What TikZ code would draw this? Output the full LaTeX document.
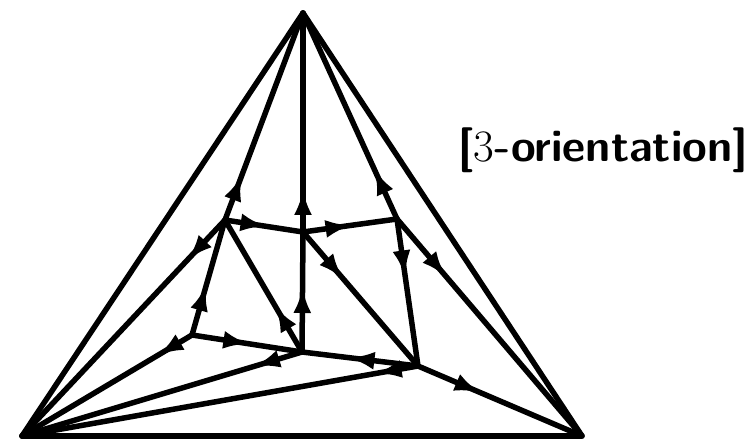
\documentclass[tikz,border=0pt]{standalone}
\usepackage{fontspec}
\usetikzlibrary{arrows.meta,decorations.markings}
\begin{document}
\begin{tikzpicture}[x=1pt,y=-1pt,
  edge/.style={line width=5.5pt},
  inedge/.style={line width=5.5pt, line cap=round},
  arr/.style={inedge, postaction={decorate},
    decoration={markings, mark=at position #1 with {\arrow{Latex[length=26pt,width=18pt]}}}},
  lbl/.style={anchor=base west, font=\fontsize{45}{50}\selectfont\sffamily\bfseries}]
\useasboundingbox (0,0) rectangle (752,446);
% vertices
\coordinate (T) at (303,13);
\coordinate (L) at (22,436);
\coordinate (R) at (582,436);
\coordinate (A) at (225,220);
\coordinate (B) at (303,232);
\coordinate (C) at (397,219);
\coordinate (D) at (302,352);
\coordinate (E) at (418,366);
\coordinate (F) at (192,335);
% outer triangle
\draw[edge] (T) -- (L);
\draw[edge] (T) -- (R);
\draw[edge] (L) -- (R);
% inner edges (tail -> head)
\draw[arr=48pt] (A) -- (T);
\draw[arr=55pt] (A) -- (L);
\draw[arr=42pt] (A) -- (B);
\draw[arr=43pt] (B) -- (T);
\draw[arr=49pt] (B) -- (C);
\draw[arr=62pt] (B) -- (E);
\draw[arr=55pt] (C) -- (T);
\draw[arr=58pt] (C) -- (E);
\draw[arr=76pt] (C) -- (R);
\draw[arr=65pt] (D) -- (B);
\draw[arr=53pt] (D) -- (A);
\draw[arr=50pt] (D) -- (L);
\draw[arr=70pt] (E) -- (D);
\draw[arr=43pt] (E) -- (L);
\draw[arr=68pt] (E) -- (R);
\draw[arr=52pt] (F) -- (A);
\draw[arr=58pt] (F) -- (D);
\draw[arr=40pt] (F) -- (L);
% label
\node[lbl] (title) at (455,162) {[{\rmfamily\mdseries 3}-orientation]};
\end{tikzpicture}
\end{document}
